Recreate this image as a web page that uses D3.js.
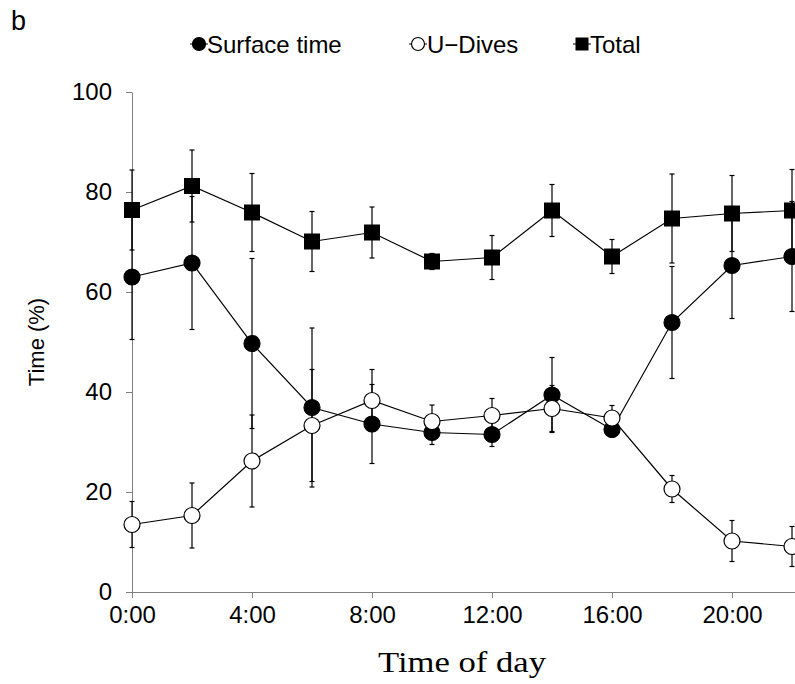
<!DOCTYPE html>
<html>
<head>
<meta charset="utf-8">
<script src="https://cdn.jsdelivr.net/npm/d3@7"></script>
<style>
  body { margin: 0; background: #fff; }
  svg { display: block; }
  .axis path, .axis line { stroke: #808080; }
  .axis text { font-family: "Liberation Sans", Arial, sans-serif; font-size: 24px; fill: #000; }
</style>
</head>
<body>
<svg id="chart" width="795" height="684"></svg>
<script>
"use strict"

// time of day (hours)
let hours = [0, 2, 4, 6, 8, 10, 12, 14, 16, 18, 20, 22]
let xTicks = [0, 4, 8, 12, 16, 20]
let yTicks = [0, 20, 40, 60, 80, 100]

// % of time, with error bars
let surface    = [63.0, 65.8, 49.7, 36.9, 33.6, 31.9, 31.5, 39.4, 32.5, 53.9, 65.3, 67.1]
let surfaceErr = [12.5, 13.3, 17.0, 15.9, 7.9, 2.4, 2.4, 7.5, 1.5, 11.2, 10.6, 11.0]
let udives     = [13.5, 15.3, 26.2, 33.3, 38.3, 34.1, 35.3, 36.7, 34.8, 20.6, 10.2, 9.1]
let udivesErr  = [4.6, 6.5, 9.2, 11.2, 6.2, 3.3, 3.4, 4.6, 2.5, 2.7, 4.1, 4.0]
let total      = [76.4, 81.2, 75.9, 70.1, 71.9, 66.1, 66.9, 76.3, 67.1, 74.7, 75.7, 76.3]
let totalErr   = [8.0, 7.2, 7.8, 6.0, 5.1, 1.6, 4.4, 5.2, 3.4, 8.9, 7.6, 8.2]

let series = [
    { name: "Total", vals: total, errs: totalErr, shape: "square", fill: "#000" },
    { name: "Surface time", vals: surface, errs: surfaceErr, shape: "circle", fill: "#000" },
    { name: "U\u2212Dives", vals: udives, errs: udivesErr, shape: "circle", fill: "#fff" }
]

let svg = d3.select("#chart")

let x = d3.scaleLinear().domain([0, 22.1]).range([132, 795])
let y = d3.scaleLinear().domain([0, 100]).range([592, 92])

// axes
svg.append("g")
    .attr("class", "axis")
    .attr("transform", "translate(0,592)")
    .call(d3.axisBottom(x).tickValues(xTicks).tickFormat(d => d + ":00").tickSize(6).tickPadding(8).tickSizeOuter(0))

svg.append("g")
    .attr("class", "axis")
    .attr("transform", "translate(132,0)")
    .call(d3.axisLeft(y).tickValues(yTicks).tickSize(6).tickPadding(14).tickSizeOuter(0))

svg.selectAll(".axis .domain").attr("stroke", "#808080")

// axis titles
svg.append("text")
    .attr("transform", "translate(44,342) rotate(-90)")
    .attr("text-anchor", "middle")
    .style("font-family", "Liberation Sans, Arial, sans-serif")
    .style("font-size", "22px")
    .text("Time (%)")

svg.append("text")
    .attr("x", 378).attr("y", 672)
    .attr("textLength", 168)
    .attr("lengthAdjust", "spacingAndGlyphs")
    .style("font-family", "Liberation Serif, 'Times New Roman', serif")
    .style("font-size", "29px")
    .text("Time of day")

svg.append("text")
    .attr("x", 11).attr("y", 30)
    .style("font-family", "Liberation Sans, Arial, sans-serif")
    .style("font-size", "27px")
    .text("b")

function drawMarker(g, shape, fill, size) {
    if (shape === "square") {
        g.append("rect")
            .attr("x", -size).attr("y", -size)
            .attr("width", size * 2).attr("height", size * 2)
            .attr("fill", fill).attr("stroke", "#000").attr("stroke-width", 1)
    } else {
        g.append("circle")
            .attr("r", size)
            .attr("fill", fill).attr("stroke", "#000").attr("stroke-width", 1.2)
    }
}

let line = d3.line()
    .x((d, i) => x(hours[i]))
    .y(d => y(d))

series.forEach(function (s) {
    let g = svg.append("g")

    // error bars
    let eb = g.selectAll(".eb").data(s.vals).enter().append("g")
    eb.append("line")
        .attr("x1", (d, i) => x(hours[i])).attr("x2", (d, i) => x(hours[i]))
        .attr("y1", (d, i) => y(d + s.errs[i])).attr("y2", (d, i) => y(d - s.errs[i]))
        .attr("stroke", "#000").attr("stroke-width", 1.2)
    eb.append("line")
        .attr("x1", (d, i) => x(hours[i]) - 2.5).attr("x2", (d, i) => x(hours[i]) + 2.5)
        .attr("y1", (d, i) => y(d + s.errs[i])).attr("y2", (d, i) => y(d + s.errs[i]))
        .attr("stroke", "#000").attr("stroke-width", 1.2)
    eb.append("line")
        .attr("x1", (d, i) => x(hours[i]) - 2.5).attr("x2", (d, i) => x(hours[i]) + 2.5)
        .attr("y1", (d, i) => y(d - s.errs[i])).attr("y2", (d, i) => y(d - s.errs[i]))
        .attr("stroke", "#000").attr("stroke-width", 1.2)

    g.append("path")
        .datum(s.vals)
        .attr("d", line)
        .attr("fill", "none")
        .attr("stroke", "#000")
        .attr("stroke-width", 1.2)

    s.vals.forEach(function (d, i) {
        let m = g.append("g").attr("transform", "translate(" + x(hours[i]) + "," + y(d) + ")")
        drawMarker(m, s.shape, s.fill, s.shape === "square" ? 7.5 : 8)
    })
})

// legend
let legend = [
    { s: series[1], mx: 199, tx: 207 },
    { s: series[2], mx: 418, tx: 427 },
    { s: series[0], mx: 582, tx: 590 }
]
legend.forEach(function (l) {
    let g = svg.append("g").attr("transform", "translate(" + l.mx + ",44)")
    g.append("line").attr("x1", -9).attr("x2", 9).attr("stroke", "#000").attr("stroke-width", 1)
    drawMarker(g, l.s.shape, l.s.fill, l.s.shape === "square" ? 6 : 6.5)
    svg.append("text")
        .attr("x", l.tx).attr("y", 53)
        .style("font-family", "Liberation Sans, Arial, sans-serif")
        .style("font-size", "24px")
        .text(l.s.name)
})
</script>
</body>
</html>
